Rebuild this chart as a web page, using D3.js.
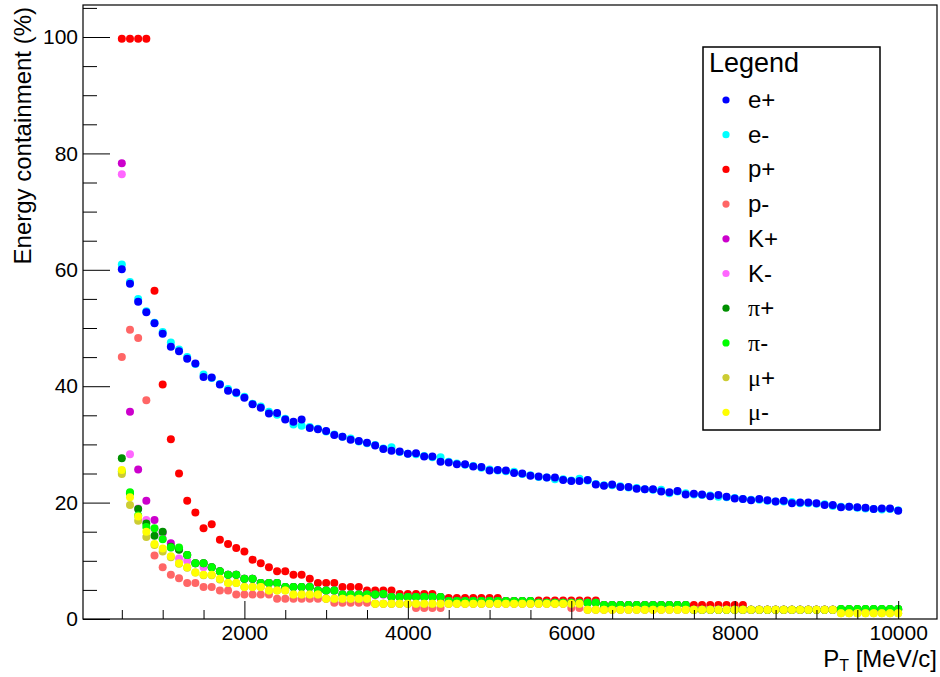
<!DOCTYPE html>
<html>
<head>
<meta charset="utf-8">
<script src="https://cdn.jsdelivr.net/npm/d3@7"></script>
<style>
  body { margin: 0; background: #fff; }
  svg { display: block; font-family: "Liberation Sans", Arial, sans-serif; }
</style>
</head>
<body>
<svg id="chart" width="940" height="677"></svg>
<script>
// ── data: energy containment (%) vs transverse momentum, one value per pT point ──
const pT = [
  500, 600, 700, 800, 900, 1000, 1100, 1200, 1300, 1400,
  1500, 1600, 1700, 1800, 1900, 2000, 2100, 2200, 2300, 2400,
  2500, 2600, 2700, 2800, 2900, 3000, 3100, 3200, 3300, 3400,
  3500, 3600, 3700, 3800, 3900, 4000, 4100, 4200, 4300, 4400,
  4500, 4600, 4700, 4800, 4900, 5000, 5100, 5200, 5300, 5400,
  5500, 5600, 5700, 5800, 5900, 6000, 6100, 6200, 6300, 6400,
  6500, 6600, 6700, 6800, 6900, 7000, 7100, 7200, 7300, 7400,
  7500, 7600, 7700, 7800, 7900, 8000, 8100, 8200, 8300, 8400,
  8500, 8600, 8700, 8800, 8900, 9000, 9100, 9200, 9300, 9400,
  9500, 9600, 9700, 9800, 9900, 10000
];

const ePlus = [
  60.1, 57.6, 54.5, 52.7, 50.8, 49.0, 46.8, 46.0, 44.7, 43.9,
  41.6, 41.5, 40.3, 39.2, 38.9, 38.0, 36.9, 36.3, 35.3, 35.4,
  34.3, 33.9, 34.3, 32.8, 32.6, 32.3, 31.6, 31.3, 30.8, 30.6,
  30.3, 29.8, 29.2, 28.9, 28.8, 28.4, 28.5, 27.9, 27.9, 27.0,
  26.9, 26.6, 26.6, 26.2, 26.1, 25.5, 25.6, 25.5, 25.1, 25.0,
  24.6, 24.5, 24.3, 24.3, 23.9, 23.7, 23.7, 23.9, 23.1, 22.9,
  23.1, 22.7, 22.7, 22.4, 22.3, 22.3, 21.9, 21.8, 22.0, 21.4,
  21.5, 21.4, 21.1, 21.3, 21.0, 20.7, 20.6, 20.4, 20.6, 20.4,
  20.2, 20.3, 19.9, 20.0, 20.0, 19.9, 19.6, 19.6, 19.2, 19.3,
  19.2, 19.1, 18.9, 19.0, 19.0, 18.6
];

const eMinus = [
  60.9, 57.9, 55.0, 52.9, 50.9, 49.3, 47.5, 46.3, 45.0, 43.8,
  42.0, 41.4, 40.4, 39.5, 38.8, 38.2, 37.0, 36.5, 35.6, 35.1,
  34.4, 33.4, 33.2, 33.0, 32.7, 32.2, 31.7, 31.3, 31.0, 30.5,
  30.2, 29.9, 29.3, 29.5, 28.7, 28.4, 28.3, 28.0, 27.8, 27.8,
  27.0, 26.7, 26.5, 26.3, 26.0, 25.7, 25.5, 25.4, 25.3, 24.9,
  24.7, 24.4, 24.3, 24.0, 24.0, 23.8, 24.1, 23.8, 23.2, 23.0,
  23.0, 22.8, 22.6, 22.5, 22.3, 22.2, 22.2, 21.6, 21.9, 21.6,
  21.4, 21.3, 21.2, 21.0, 20.9, 20.8, 20.6, 20.5, 20.5, 20.3,
  20.2, 20.2, 20.1, 19.9, 19.9, 19.8, 19.7, 19.4, 19.3, 19.3,
  19.1, 19.0, 18.9, 18.8, 18.9, 18.7
];

const pPlus = [
  99.7, 99.7, 99.7, 99.7, 56.4, 40.3, 30.9, 25.0, 20.3, 18.3,
  15.6, 16.3, 13.6, 12.9, 12.2, 11.6, 10.2, 9.6, 8.9, 8.2,
  8.2, 7.6, 7.6, 6.9, 6.2, 6.2, 6.2, 5.5, 5.5, 5.5,
  4.9, 4.9, 4.9, 4.9, 4.3, 4.3, 4.3, 4.3, 4.3, 3.6,
  3.6, 3.6, 3.6, 3.6, 3.6, 3.6, 3.6, 3.1, 3.1, 3.1,
  3.1, 3.2, 3.2, 3.2, 3.2, 3.2, 3.2, 3.2, 3.2, 2.4,
  2.4, 2.4, 2.4, 2.4, 2.4, 2.4, 2.4, 2.4, 2.4, 2.4,
  2.4, 2.4, 2.4, 2.4, 2.4, 2.4, 2.4, 1.6, 1.6, 1.6,
  1.6, 1.6, 1.6, 1.6, 1.6, 1.6, 1.6, 1.6, 1.6, 1.6,
  1.6, 1.6, 1.6, 1.6, 1.6, 1.6
];

const pMinus = [
  45.0, 49.7, 48.3, 37.6, 10.9, 8.9, 7.6, 7.0, 6.2, 6.2,
  5.5, 5.5, 4.9, 4.9, 4.2, 4.2, 4.2, 4.2, 4.2, 3.5,
  3.5, 3.5, 3.5, 3.5, 3.5, 3.5, 2.8, 2.8, 2.8, 2.8,
  2.8, 2.6, 2.6, 2.6, 2.6, 2.6, 1.9, 1.9, 1.9, 1.9,
  2.6, 2.6, 2.6, 2.6, 2.6, 2.6, 2.6, 2.6, 2.6, 2.6,
  2.6, 2.6, 2.6, 2.6, 2.6, 1.9, 1.9, 1.6, 1.6, 1.6,
  1.6, 1.6, 1.6, 1.6, 1.6, 1.6, 1.6, 1.6, 1.6, 1.6,
  1.6, 1.6, 1.6, 1.6, 1.6, 1.6, 1.6, 1.6, 1.6, 1.6,
  1.6, 1.6, 1.6, 1.6, 1.6, 1.6, 1.6, 1.6, 1.6, 1.6,
  1.6, 1.6, 1.6, 1.6, 1.6, 1.6
];

const kPlus = [
  78.3, 35.6, 25.7, 20.3, 17.0, 14.8, 13.0, 12.0, 11.0, 9.6,
  9.6, 8.9, 8.2, 7.6, 7.6, 6.9, 6.9, 6.2, 6.2, 6.2,
  5.5, 5.5, 5.5, 5.5, 4.9, 4.9, 4.9, 4.2, 4.2, 4.2,
  4.2, 4.2, 4.2, 3.8, 3.8, 3.8, 3.8, 3.8, 3.8, 3.8,
  3.1, 3.1, 3.1, 3.1, 3.1, 3.1, 3.1, 3.1, 3.1, 3.1,
  3.1, 2.8, 2.8, 2.8, 2.8, 2.8, 2.8, 2.8, 2.8, 2.4,
  2.4, 2.4, 2.4, 2.4, 2.4, 2.4, 2.4, 2.4, 2.4, 2.4,
  1.6, 1.6, 1.6, 1.6, 1.6, 1.6, 1.6, 1.6, 1.6, 1.6,
  1.6, 1.6, 1.6, 1.6, 1.6, 1.6, 1.6, 1.6, 1.6, 1.6,
  1.6, 1.6, 1.6, 1.6, 1.6, 1.6
];

const kMinus = [
  76.4, 28.3, 19.0, 17.0, 15.5, 13.8, 12.3, 10.4, 10.0, 9.6,
  8.9, 8.9, 8.2, 7.6, 7.6, 6.9, 6.9, 6.2, 6.2, 6.2,
  5.5, 5.5, 5.5, 5.5, 4.9, 4.9, 4.9, 4.2, 4.2, 4.2,
  4.2, 4.1, 4.2, 3.8, 3.8, 3.8, 3.8, 3.8, 3.8, 3.8,
  3.1, 3.1, 3.1, 3.1, 3.1, 3.1, 3.1, 3.1, 3.1, 3.1,
  3.1, 2.8, 2.8, 2.8, 2.8, 2.8, 2.8, 2.8, 2.8, 2.4,
  2.4, 2.4, 2.4, 2.4, 2.4, 2.4, 2.4, 2.4, 2.4, 2.4,
  1.6, 1.6, 1.6, 1.6, 1.6, 1.6, 1.6, 1.6, 1.6, 1.6,
  1.6, 1.6, 1.6, 1.6, 1.6, 1.6, 1.6, 1.6, 1.6, 1.6,
  1.6, 1.6, 1.6, 1.6, 1.6, 1.6
];

const piPlus = [
  27.6, 21.6, 18.9, 16.4, 14.3, 15.0, 12.4, 11.9, 11.0, 9.6,
  9.6, 8.9, 8.2, 7.6, 7.6, 6.9, 6.9, 6.2, 6.2, 6.2,
  5.5, 5.5, 5.5, 5.5, 4.9, 4.9, 4.9, 4.2, 4.2, 4.2,
  4.2, 4.2, 4.3, 3.8, 3.8, 3.8, 3.8, 3.8, 3.8, 3.8,
  3.1, 3.1, 3.1, 3.1, 3.1, 3.1, 3.1, 3.1, 3.1, 3.1,
  3.1, 2.8, 2.8, 2.8, 2.8, 2.8, 2.8, 2.8, 2.8, 2.4,
  2.4, 2.4, 2.4, 2.4, 2.4, 2.4, 2.4, 2.4, 2.4, 2.4,
  1.6, 1.6, 1.6, 1.6, 1.6, 1.6, 1.6, 1.6, 1.6, 1.6,
  1.6, 1.6, 1.6, 1.6, 1.6, 1.6, 1.6, 1.6, 1.7, 1.7,
  1.7, 1.7, 1.7, 1.7, 1.7, 1.7
];

const piMinus = [
  25.3, 21.8, 17.8, 15.8, 15.6, 13.7, 12.3, 12.3, 11.0, 9.6,
  9.6, 8.9, 8.2, 7.6, 7.6, 6.9, 6.9, 6.2, 6.2, 6.2,
  5.5, 5.5, 5.5, 5.5, 4.9, 4.9, 4.9, 4.2, 4.2, 4.2,
  4.2, 4.2, 4.3, 3.8, 3.8, 3.8, 3.8, 3.8, 3.8, 3.8,
  3.1, 3.1, 3.1, 3.1, 3.1, 3.1, 3.1, 3.1, 3.1, 3.1,
  3.1, 2.8, 2.8, 2.8, 2.8, 2.8, 2.8, 2.8, 2.8, 2.4,
  2.4, 2.4, 2.4, 2.4, 2.4, 2.4, 2.4, 2.4, 2.4, 2.4,
  1.6, 1.6, 1.6, 1.6, 1.6, 1.6, 1.6, 1.6, 1.6, 1.6,
  1.6, 1.6, 1.6, 1.6, 1.6, 1.6, 1.6, 1.6, 1.7, 1.7,
  1.7, 1.7, 1.7, 1.7, 1.7, 1.7
];

const muPlus = [
  24.9, 19.6, 16.9, 14.1, 12.7, 11.6, 10.6, 9.5, 8.8, 8.0,
  7.5, 7.5, 6.8, 6.2, 6.2, 5.5, 5.5, 5.5, 4.9, 4.9,
  4.9, 4.2, 4.2, 4.2, 4.2, 3.5, 3.5, 3.5, 3.5, 3.5,
  3.5, 2.6, 2.6, 2.6, 2.6, 2.6, 2.6, 2.6, 2.6, 2.6,
  2.6, 2.6, 2.6, 2.6, 2.6, 2.6, 2.6, 2.6, 2.6, 2.6,
  2.6, 2.6, 2.6, 2.6, 2.6, 2.6, 2.6, 1.6, 1.6, 1.6,
  1.6, 1.6, 1.6, 1.6, 1.6, 1.6, 1.6, 1.6, 1.6, 1.6,
  1.6, 1.6, 1.6, 1.6, 1.6, 1.6, 1.6, 1.6, 1.6, 1.6,
  1.6, 1.6, 1.6, 1.6, 1.6, 1.6, 1.6, 1.6, 1.0, 1.0,
  1.0, 1.0, 1.0, 1.0, 1.0, 1.0
];

const muMinus = [
  25.6, 20.9, 17.6, 15.0, 12.9, 12.1, 10.8, 9.6, 8.9, 8.0,
  7.6, 7.6, 6.9, 6.2, 6.2, 5.5, 5.5, 5.5, 4.9, 4.9,
  4.9, 4.2, 4.2, 4.2, 4.2, 3.5, 3.5, 3.5, 3.5, 3.5,
  3.5, 2.6, 2.6, 2.6, 2.6, 2.6, 2.6, 2.6, 2.6, 2.6,
  2.6, 2.6, 2.6, 2.6, 2.6, 2.6, 2.6, 2.6, 2.6, 2.6,
  2.6, 2.6, 2.6, 2.6, 2.6, 2.6, 2.6, 1.6, 1.6, 1.6,
  1.6, 1.6, 1.6, 1.6, 1.6, 1.6, 1.6, 1.6, 1.6, 1.6,
  1.6, 1.6, 1.6, 1.6, 1.6, 1.6, 1.6, 1.6, 1.6, 1.6,
  1.6, 1.6, 1.6, 1.6, 1.6, 1.6, 1.6, 1.6, 1.0, 1.0,
  1.0, 1.0, 1.0, 1.0, 1.0, 1.0
];

const xMajorTicks = [2000, 4000, 6000, 8000, 10000];
const yMajorTicks = [0, 20, 40, 60, 80, 100];

// legend order (top to bottom)
const legendNames = ["e+", "e-", "p+", "p-", "K+", "K-", "\u03c0+", "\u03c0-", "\u03bc+", "\u03bc-"];
const legendValues = [ePlus, eMinus, pPlus, pMinus, kPlus, kMinus, piPlus, piMinus, muPlus, muMinus];
const COLORS = ["#0000ff", "#00ffff", "#ff0000", "#ff6666", "#cc00cc",
                "#ff66ff", "#008f00", "#00ff00", "#cccc33", "#ffff00"];
// draw order: e- sits under e+, everything else as listed
const DRAW_ORDER = [1, 0, 2, 3, 4, 5, 6, 7, 8, 9];

// ── layout (ROOT-like frame) ──
const FRAME = { left: 83, right: 937, top: 5, bottom: 619 };
const FONT = "'Liberation Sans', Arial, sans-serif";

const svg = d3.select("#chart");
const x = d3.scaleLinear().domain([25, 10475]).range([FRAME.left, FRAME.right]);
const y = d3.scaleLinear().domain([0, 105.5]).range([FRAME.bottom, FRAME.top]);

svg.append("rect").attr("width", 940).attr("height", 677).attr("fill", "#fff");

// ── points ──
const pts = svg.append("g");
DRAW_ORDER.forEach(si => {
    const vals = legendValues[si];
    pts.append("g").selectAll("circle")
        .data(pT.map((p, i) => [p, vals[i]]))
        .join("circle")
        .attr("cx", d => x(d[0]))
        .attr("cy", d => y(d[1]))
        .attr("r", 4)
        .attr("fill", COLORS[si]);
});

// ── axes ──
const xMinor = d3.range(500, 10001, 500).filter(v => v % 2000 !== 0);
const yMinor = d3.range(5, 106, 5).filter(v => v % 20 !== 0);

const axStyle = g => {
    g.select(".domain").remove();
    g.selectAll("line").attr("stroke", "#000").attr("stroke-width", 1);
    g.selectAll("text").attr("fill", "#000").attr("font-size", 21)
        .attr("font-family", FONT);
};

svg.append("g").attr("transform", `translate(0,${FRAME.bottom})`)
    .call(d3.axisBottom(x).tickValues(xMajorTicks).tickSize(-18).tickPadding(6).tickFormat(d3.format("d")))
    .call(axStyle);
svg.append("g").attr("transform", `translate(0,${FRAME.bottom})`)
    .call(d3.axisBottom(x).tickValues(xMinor).tickSize(-9).tickFormat(""))
    .call(axStyle);

svg.append("g").attr("transform", `translate(${FRAME.left},0)`)
    .call(d3.axisLeft(y).tickValues(yMajorTicks).tickSize(-27).tickPadding(5).tickFormat(d3.format("d")))
    .call(axStyle);
svg.append("g").attr("transform", `translate(${FRAME.left},0)`)
    .call(d3.axisLeft(y).tickValues(yMinor).tickSize(-14).tickFormat(""))
    .call(axStyle);

// frame
svg.append("rect")
    .attr("x", FRAME.left).attr("y", FRAME.top)
    .attr("width", FRAME.right - FRAME.left).attr("height", FRAME.bottom - FRAME.top)
    .attr("fill", "none").attr("stroke", "#000").attr("stroke-width", 1.2);

// axis titles
svg.append("text")
    .attr("transform", `translate(31,${FRAME.top + 2}) rotate(-90)`)
    .attr("text-anchor", "end").attr("font-size", 24).attr("fill", "#000")
    .text("Energy containment (%)");

const xt = svg.append("text")
    .attr("x", FRAME.right).attr("y", 667)
    .attr("text-anchor", "end").attr("font-size", 24).attr("fill", "#000");
xt.append("tspan").text("P");
xt.append("tspan").attr("font-size", 16).attr("dy", 4).text("T");
xt.append("tspan").attr("dy", -4).text(" [MeV/c]");

// ── legend ──
const LEG = { x: 703, y: 47, w: 177, h: 383, rowTop: 100, rowStep: 34.7 };
const leg = svg.append("g");
leg.append("rect")
    .attr("x", LEG.x).attr("y", LEG.y).attr("width", LEG.w).attr("height", LEG.h)
    .attr("fill", "#fff").attr("stroke", "#000").attr("stroke-width", 1.5);
leg.append("text")
    .attr("x", LEG.x + 6).attr("y", LEG.y + 25)
    .attr("font-size", 27).attr("fill", "#000").text("Legend");

legendNames.forEach((name, i) => {
    const cy = LEG.rowTop + i * LEG.rowStep;
    leg.append("circle").attr("cx", LEG.x + 23).attr("cy", cy).attr("r", 3.6).attr("fill", COLORS[i]);
    const t = leg.append("text").attr("x", LEG.x + 45).attr("y", cy + 8)
        .attr("font-size", 24).attr("fill", "#000");
    const greek = /[\u03c0\u03bc]/.test(name[0]);
    if (greek) {
        t.append("tspan").attr("font-family", "'Liberation Serif', 'DejaVu Serif', serif").text(name[0]);
        t.append("tspan").text(name.slice(1));
    } else {
        t.text(name);
    }
});
</script>
</body>
</html>
